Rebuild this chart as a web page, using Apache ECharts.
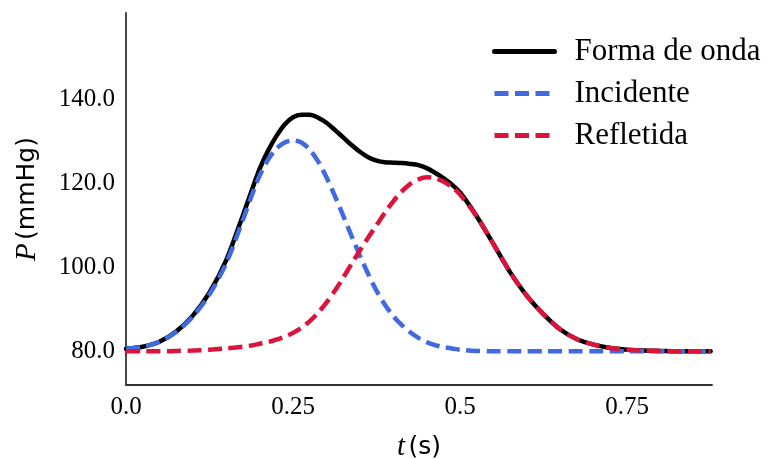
<!DOCTYPE html>
<html>
<head>
<meta charset="utf-8">
<script src="https://cdn.jsdelivr.net/npm/echarts@6/dist/echarts.min.js"></script>
<style>
  html, body { margin: 0; padding: 0; background: #fff; }
  #chart { width: 768px; height: 459px; }
</style>
</head>
<body>
<div id="chart"></div>
<script>
// tempo (s) - mais pontos na região dos picos
var times = [0, 0.025, 0.05, 0.075, 0.1, 0.125, 0.15,
    0.175, 0.1875, 0.2, 0.2125, 0.225, 0.2375, 0.25, 0.2625, 0.275, 0.2875,
    0.3, 0.3125, 0.325, 0.3375, 0.35, 0.3625, 0.375, 0.3875, 0.4, 0.4125,
    0.425, 0.4375, 0.45, 0.4625, 0.475, 0.4875, 0.5,
    0.525, 0.55, 0.575, 0.6, 0.625, 0.65, 0.675, 0.7, 0.725, 0.75, 0.775, 0.8, 0.825, 0.85, 0.875];

// pressão (mmHg)
var formaDeOnda = [80.6, 81.1, 82.3, 84.7, 88.5, 94.0, 101.7,
    112.4, 118.0, 123.4, 127.7, 131.2, 134.0, 135.7, 136.3, 136.3, 135.6,
    134.4, 132.7, 130.9, 129.1, 127.5, 126.2, 125.4, 125.0, 124.9, 124.8,
    124.6, 124.3, 123.6, 122.5, 121.2, 119.7, 117.8,
    112.1, 105.5, 98.8, 93.2, 88.8, 85.2, 82.9, 81.6, 80.8, 80.4, 80.2, 80.1, 80.0, 80.0, 80.0];
var incidente = [80.6, 81.1, 82.3, 84.6, 88.3, 93.6, 101.0,
    111.3, 116.8, 121.8, 125.6, 128.2, 129.7, 130.2, 129.7, 128.0, 125.2,
    121.4, 117.0, 112.3, 107.5, 102.8, 98.4, 94.4, 91.1, 88.4, 86.3,
    84.6, 83.2, 82.2, 81.5, 81.0, 80.7, 80.4,
    80.1, 80.0, 80.0, 80.0, 80.0, 80.0, 80.0, 80.0, 80.0, 80.0, 80.0, 80.0, 80.0, 80.0, 80.0];
var refletida = [80.0, 80.0, 80.0, 80.1, 80.2, 80.4, 80.7,
    81.1, 81.4, 81.8, 82.2, 82.8, 83.5, 84.4, 85.6, 87.2, 89.2,
    91.6, 94.4, 97.5, 100.8, 104.0, 107.1, 110.0, 113.0, 115.7, 118.0,
    119.8, 120.9, 121.4, 121.2, 120.4, 119.1, 117.3,
    112.1, 105.5, 98.8, 93.2, 88.8, 85.2, 82.9, 81.6, 80.8, 80.4, 80.2, 80.1, 80.0, 80.0, 80.0];

var xTicks = [0, 0.25, 0.5, 0.75];
var xTickLabels = ['0.0', '0.25', '0.5', '0.75'];
var yTicks = [80, 100, 120, 140];

function pares(ys) {
    return times.map(function (t, i) { return [t, ys[i]]; });
}

var chart = echarts.init(document.getElementById('chart'), null, { renderer: 'canvas' });

var serif = 'Liberation Serif';
var sans = 'DejaVu Sans';
var tracejado = [14, 6.5];

var option = {
    backgroundColor: '#ffffff',
    animation: false,
    grid: { left: 126, right: 56, top: 13, bottom: 74, outerBoundsMode: 'none' },
    legend: {
        orient: 'vertical',
        left: 487,
        top: 31,
        itemWidth: 60,
        itemHeight: 14,
        itemGap: 11,
        // sem marcador, só a linha
        itemStyle: { color: 'rgba(0,0,0,0)', borderWidth: 0, opacity: 0 },
        lineStyle: { width: 5 },
        textStyle: {
            fontFamily: serif,
            fontSize: 31,
            color: '#000',
            lineHeight: 31,
            padding: [0, 0, 0, 15]
        },
        data: ['Forma de onda', 'Incidente', 'Refletida']
    },
    xAxis: {
        type: 'value',
        min: 0,
        max: 0.877,
        name: '{i|t} {s|(s)}',
        nameLocation: 'middle',
        nameGap: 48,
        nameTextStyle: {
            rich: {
                i: { fontFamily: serif, fontStyle: 'italic', fontSize: 29, color: '#000' },
                s: { fontFamily: sans, fontSize: 25, color: '#000' }
            }
        },
        axisLine: { show: true, lineStyle: { color: '#333', width: 1.8 } },
        axisTick: { show: false },
        splitLine: { show: false },
        axisLabel: {
            customValues: xTicks,
            formatter: function (v) {
                var k = xTicks.indexOf(v);
                return k >= 0 ? xTickLabels[k] : '';
            },
            fontFamily: serif,
            fontSize: 25,
            color: '#000',
            margin: 10
        }
    },
    yAxis: {
        type: 'value',
        min: 72,
        max: 160.5,
        name: '{i|P} {s|(mmHg)}',
        nameLocation: 'middle',
        nameRotate: 90,
        nameGap: 84,
        nameTextStyle: {
            rich: {
                i: { fontFamily: serif, fontStyle: 'italic', fontSize: 29, color: '#000' },
                s: { fontFamily: sans, fontSize: 25, color: '#000' }
            }
        },
        axisLine: { show: true, lineStyle: { color: '#333', width: 1.8 } },
        axisTick: { show: false },
        splitLine: { show: false },
        axisLabel: {
            customValues: yTicks,
            formatter: function (v) { return v.toFixed(1); },
            fontFamily: serif,
            fontSize: 25,
            color: '#000',
            margin: 11
        }
    },
    series: [
        {
            name: 'Forma de onda',
            type: 'line',
            data: pares(formaDeOnda),
            smooth: 0.3,
            symbol: 'none',
            lineStyle: { color: '#000000', width: 4.5, cap: 'round' },
            itemStyle: { color: '#000000' }
        },
        {
            name: 'Incidente',
            type: 'line',
            data: pares(incidente),
            smooth: 0.3,
            symbol: 'none',
            lineStyle: { color: '#4169E1', width: 4.5, type: tracejado },
            itemStyle: { color: '#4169E1' }
        },
        {
            name: 'Refletida',
            type: 'line',
            data: pares(refletida),
            smooth: 0.3,
            symbol: 'none',
            lineStyle: { color: '#DC143C', width: 4.5, type: tracejado },
            itemStyle: { color: '#DC143C' }
        }
    ]
};

chart.setOption(option);
</script>
</body>
</html>
